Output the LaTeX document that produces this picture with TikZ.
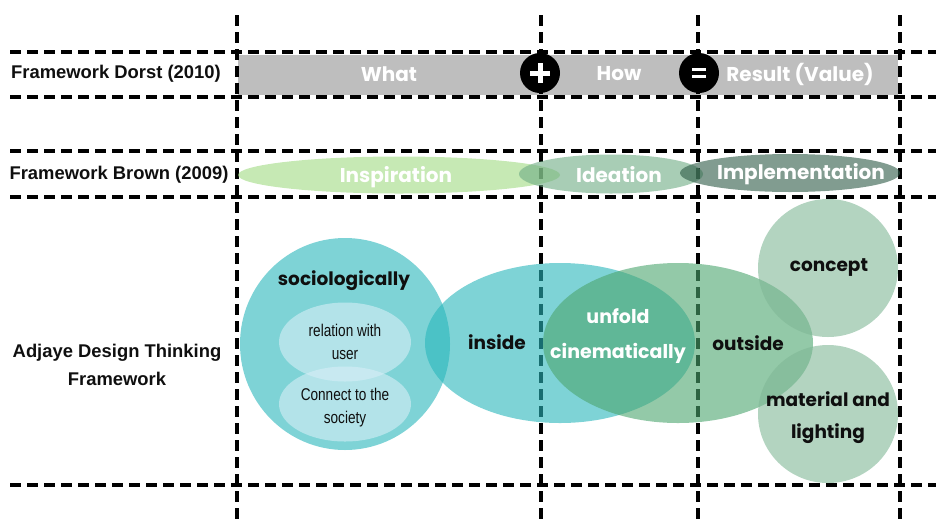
\documentclass[tikz,border=0pt]{standalone}
\usepackage{fontspec}
\setmainfont{Liberation Sans}
\newfontfamily\geo{Poppins}
\newfontfamily\narrowfont[FakeStretch=0.8]{Liberation Sans}
\usetikzlibrary{shapes.geometric}
\definecolor{barC}{RGB}{190,190,190}
\definecolor{inspC}{RGB}{160,218,130}
\definecolor{ideaC}{RGB}{110,172,132}
\definecolor{implC}{RGB}{45,90,70}
\definecolor{tealC}{RGB}{40,182,187}
\definecolor{innerC}{RGB}{214,239,247}
\definecolor{greenC}{RGB}{75,165,110}
\definecolor{paleC}{RGB}{128,183,150}
\definecolor{ink}{RGB}{15,15,15}
\tikzset{
  gridline/.style={line width=3.2pt, dash pattern=on 11pt off 6pt, black},
  blob/.style={ellipse, inner sep=0pt, draw=none, fill opacity=0.6},
  rowlbl/.style={font=\fontsize{18.4}{28}\selectfont\bfseries, text=ink, align=center, inner sep=0pt},
  whitelbl/.style={font=\geo\fontsize{20}{24}\selectfont\bfseries, text=white, inner sep=0pt},
  blacklbl/.style={font=\geo\fontsize{18.5}{32}\selectfont\bfseries, text=ink, align=center, inner sep=0pt},
  smalllbl/.style={font=\narrowfont\fontsize{17}{23}\selectfont, text=ink, align=center, inner sep=0pt},
  opcircle/.style={circle, fill=black, minimum size=40pt, inner sep=0pt},
}
\begin{document}
\begin{tikzpicture}[x=1pt,y=-1pt]
\useasboundingbox (0,0) rectangle (936,523);
% gray bar
\fill[barC] (238,55) rectangle (898,95);
% grid
\foreach \y in {52,97,151,197,485} \draw[gridline] (10,\y) -- (936,\y);
\foreach \x in {237,541,698,900} \draw[gridline] (\x,15) -- (\x,523);
% operators
\node[opcircle] (plus) at (540,73) {};
\node[opcircle] (equal) at (699,73) {};
\draw[white, line width=5pt] ([xshift=-10pt]plus.center) -- ([xshift=10pt]plus.center);
\draw[white, line width=5pt] ([yshift=-10pt]plus.center) -- ([yshift=10pt]plus.center);
\draw[white, line width=3.6pt] ([xshift=-7pt,yshift=3.6pt]equal.center) -- ([xshift=7pt,yshift=3.6pt]equal.center);
\draw[white, line width=3.6pt] ([xshift=-7pt,yshift=-3.6pt]equal.center) -- ([xshift=7pt,yshift=-3.6pt]equal.center);
% Brown row
\node[blob, fill=inspC, minimum width=322pt, minimum height=37pt] (insp) at (399,175) {};
\node[blob, fill=ideaC, minimum width=184pt, minimum height=39pt] (idea) at (611,174) {};
\node[blob, fill=implC, minimum width=220pt, minimum height=38pt] (impl) at (790,173) {};
% Adjaye row
\node[blob, fill=tealC, minimum width=210pt, minimum height=212pt] (socio) at (345,344) {};
\node[blob, fill=innerC, minimum width=132pt, minimum height=79pt] (rel) at (345,342) {};
\node[blob, fill=innerC, minimum width=132pt, minimum height=75pt] (con) at (345,404) {};
\node[blob, fill=tealC, minimum width=270pt, minimum height=160pt] (inside) at (560,343) {};
\node[blob, fill=greenC, minimum width=270pt, minimum height=160pt] (outside) at (678,343) {};
\node[blob, fill=paleC, minimum width=140pt, minimum height=138pt] (concept) at (828,268) {};
\node[blob, fill=paleC, minimum width=140pt, minimum height=138pt] (material) at (828,414) {};
% labels
\node[rowlbl] (ldorst) at (116,74) {Framework Dorst (2010)};
\node[rowlbl] (lbrown) at (119,175) {Framework Brown (2009)};
\node[rowlbl] (ladj) at (117,365) {Adjaye Design Thinking\\Framework};
\node[whitelbl] (twhat) at (389,74) {What};
\node[whitelbl] (thow) at (619,74) {How};
\node[whitelbl] (tres) at (800,74) {Result (Value)};
\node[whitelbl] (tinsp) at (396,177) {Inspiration};
\node[whitelbl] (tidea) at (619,175) {Ideation};
\node[whitelbl] (timpl) at (801,174) {Implementation};
\node[blacklbl] (tsocio) at (344,281) {sociologically};
\node[smalllbl] (trel) at (345,342) {relation with\\user};
\node[smalllbl] (tcon) at (345,408) {Connect to the\\society};
\node[blacklbl] (tinside) at (497,342) {inside};
\node[blacklbl, text=white, font=\geo\fontsize{19}{35}\selectfont\bfseries] (tunfold) at (618,336) {unfold\\cinematically};
\node[blacklbl] (toutside) at (748,343) {outside};
\node[blacklbl] (tconcept) at (829,268) {concept};
\node[blacklbl] (tmat) at (828,418) {material and\\lighting};
\end{tikzpicture}
\end{document}
